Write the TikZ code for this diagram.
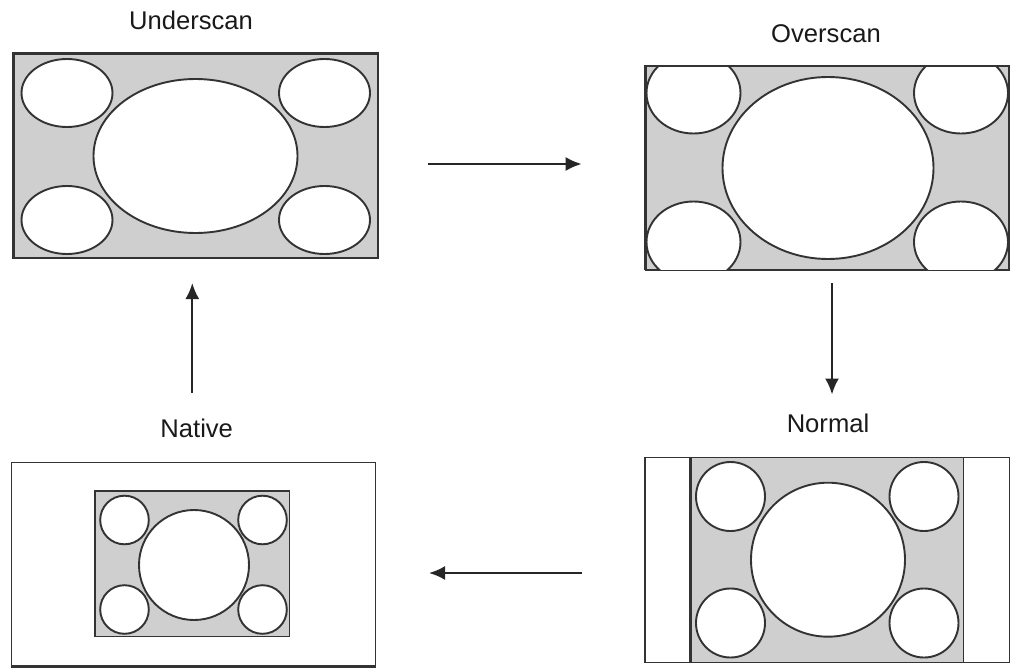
\documentclass[tikz,border=0pt]{standalone}
\usepackage{fontspec}
\setmainfont{Liberation Sans}
\usetikzlibrary{arrows.meta,shapes.geometric}
\definecolor{lineGray}{HTML}{333333}
\definecolor{panelGray}{HTML}{CFCFCF}
\tikzset{
  screen/.style={draw=lineGray,line width=1.4pt,rectangle,inner sep=0pt,fill=white},
  picarea/.style={screen,fill=panelGray},
  hole/.style={draw=lineGray,line width=1.9pt,ellipse,inner sep=0pt,fill=white},
  heavyedge/.style={draw=lineGray,line width=2.4pt},
  modelabel/.style={anchor=base,text=black!90,font=\fontsize{25.6}{30}\selectfont},
  modearrow/.style={line width=2.2pt,black!85,-{Latex[length=16pt,width=14pt]}}
}
\begin{document}
\begin{tikzpicture}[x=1pt,y=-1pt]
    \useasboundingbox (0,0) rectangle (1020,671);

    % Underscan
    \node[picarea,minimum width=363pt,minimum height=204pt] (under) at (195.75,156) {};
    \foreach \x/\h in {67/l,324.5/r}{
      \foreach \y/\v in {93/t,220/b}{
        \node[hole,minimum width=91pt,minimum height=68pt] (under\h\v) at (\x,\y) {};
      }
    }
    \node[hole,minimum width=204pt,minimum height=154pt] (underbig) at (195.5,156) {};
    \node[modelabel] (underlabel) at (191,30) {Underscan};
    \draw[heavyedge] (under.south west) -- (under.north west) -- (under.north east) -- (under.south east);

    % Overscan
    \node[picarea,minimum width=363pt,minimum height=203pt] (over) at (827.5,168) {};
    \begin{scope}
      \clip (over.north west) rectangle (over.south east); % corner holes run off the screen
      \foreach \x/\h in {693.5/l,961/r}{
        \foreach \y/\v in {93/t,242/b}{
          \node[hole,minimum width=94pt,minimum height=81pt] (over\h\v) at (\x,\y) {};
        }
      }
    \end{scope}
    \draw[draw=lineGray,line width=1.4pt] (over.north west) rectangle (over.south east);
    \draw[heavyedge] (over.south west) -- (over.north west) -- (over.north east);
    \node[hole,minimum width=211pt,minimum height=182pt] (overbig) at (828,168) {};
    \node[modelabel] (overlabel) at (826,42.7) {Overscan};

    % Normal
    \node[screen,minimum width=363.5pt,minimum height=204.5pt] (normal) at (827.5,560) {};
    \node[picarea,line width=1.2pt,minimum width=272.5pt,minimum height=204.5pt] (normalarea) at (827.5,560) {};
    \foreach \x/\h in {730.5/l,924/r}{
      \foreach \y/\v in {496.5/t,623/b}{
        \node[hole,circle,minimum size=69pt] (normal\h\v) at (\x,\y) {};
      }
    }
    \node[hole,circle,minimum size=154pt] (normalbig) at (828,559.7) {};
    \node[modelabel] (normallabel) at (828,432.7) {Normal};
    \draw[heavyedge] (normal.north west) -- (normal.south west);
    \draw[heavyedge] (normalarea.north west) -- (normalarea.south west);

    % Native
    \node[screen,minimum width=364pt,minimum height=203.5pt] (native) at (193.2,564.4) {};
    \node[picarea,line width=1.2pt,minimum width=194pt,minimum height=145pt] (nativearea) at (192.7,564.3) {};
    \foreach \x/\h in {124.5/l,262.5/r}{
      \foreach \y/\v in {520/t,609.5/b}{
        \node[hole,circle,minimum size=48.6pt] (native\h\v) at (\x,\y) {};
      }
    }
    \node[hole,circle,minimum size=110pt] (nativebig) at (194,565) {};
    \node[modelabel] (nativelabel) at (196.7,437.7) {Native};
    \draw[heavyedge] (nativearea.south west) -- (nativearea.north west) -- (nativearea.north east);
    \draw[heavyedge] (native.south west) -- (native.south east);

    % Arrows between the modes
    \coordinate (UnderOut) at (428,164);
    \coordinate (OverIn)   at (581.7,164);
    \coordinate (OverOut)  at (832,283);
    \coordinate (NormalIn) at (832,394.5);
    \coordinate (NormalOut) at (581.5,573);
    \coordinate (NativeIn)  at (429,573);
    \coordinate (NativeOut) at (192.3,393);
    \coordinate (UnderIn)   at (192.3,283);
    \draw[modearrow] (UnderOut) -- (OverIn);
    \draw[modearrow] (OverOut) -- (NormalIn);
    \draw[modearrow] (NormalOut) -- (NativeIn);
    \draw[modearrow] (NativeOut) -- (UnderIn);
\end{tikzpicture}
\end{document}
